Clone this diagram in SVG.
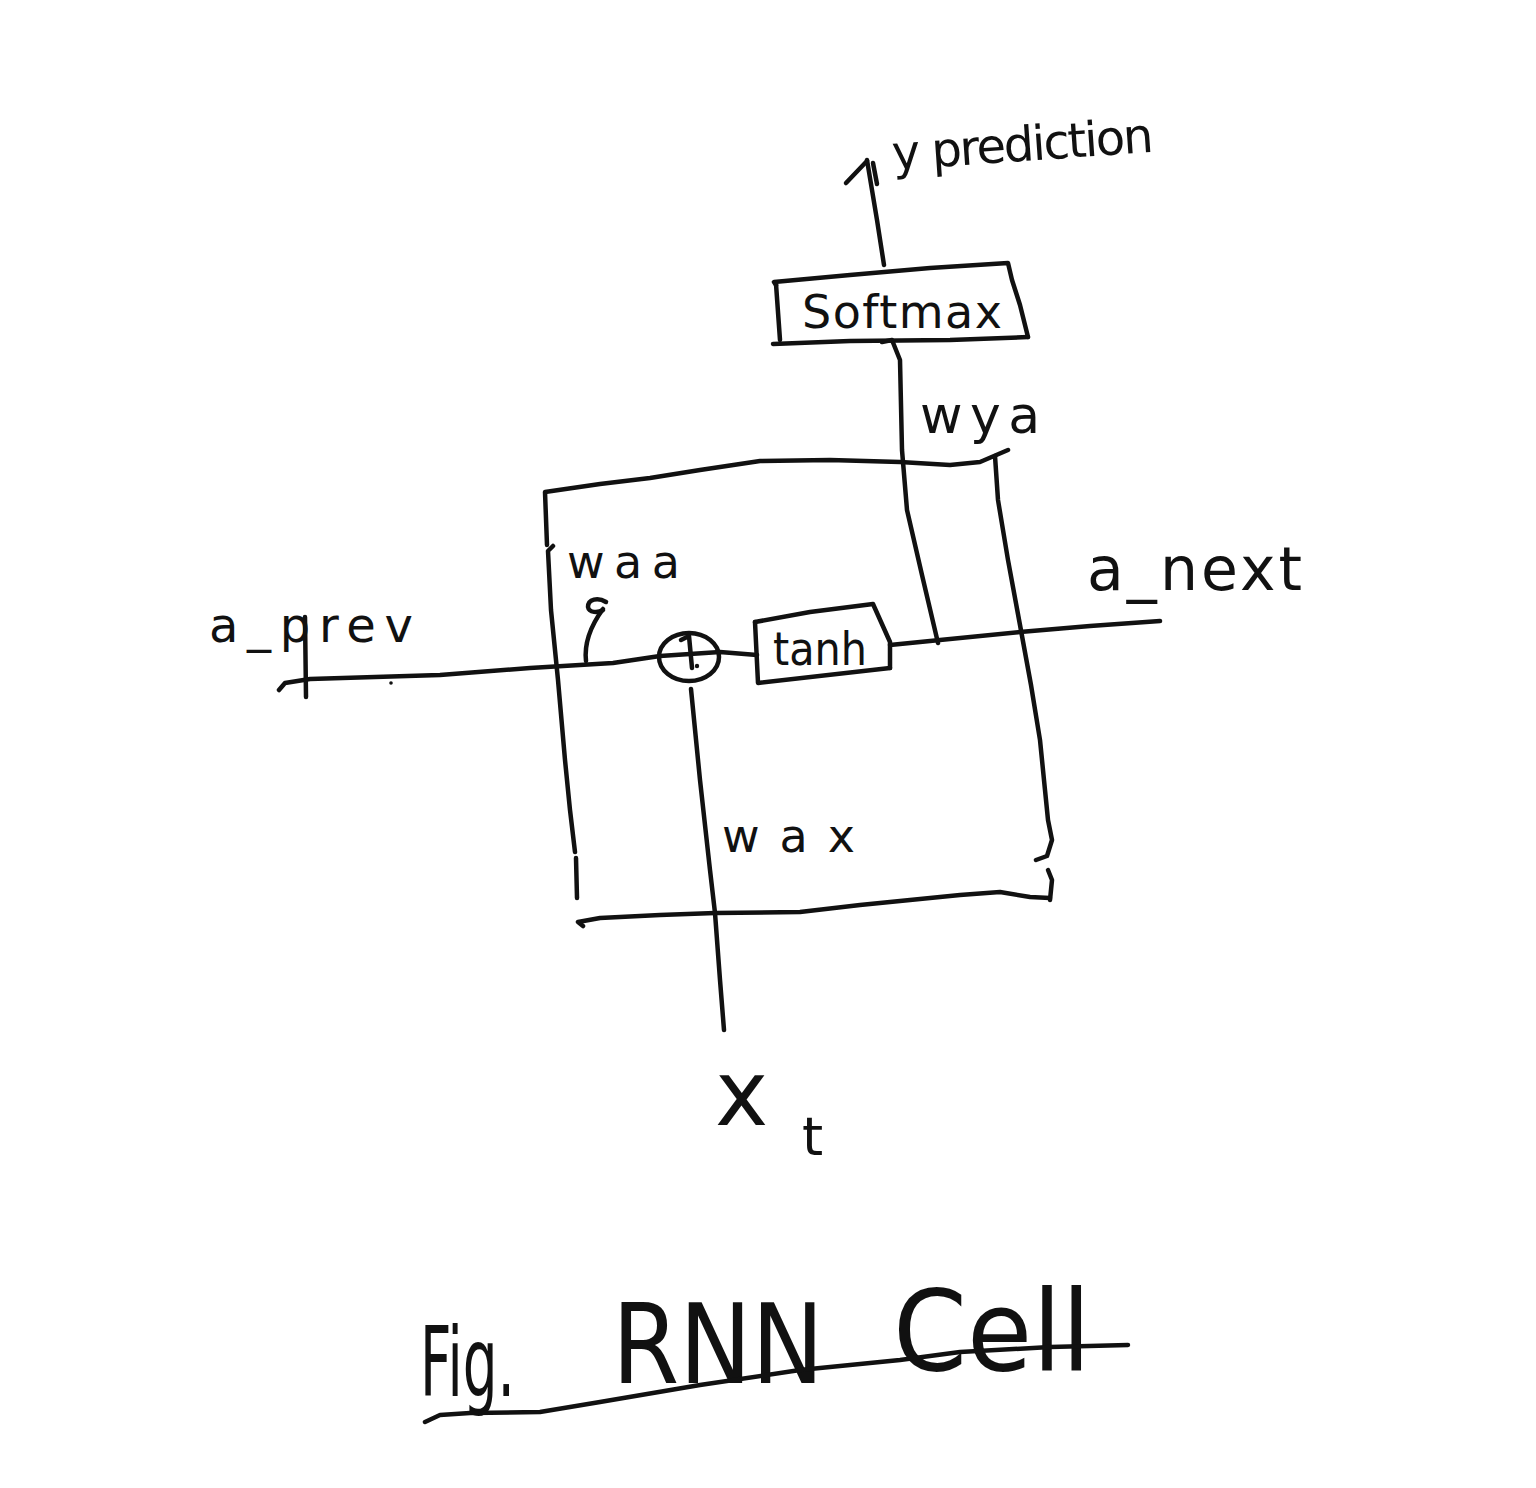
<svg xmlns="http://www.w3.org/2000/svg" width="1536" height="1488" viewBox="0 0 1536 1488">
<style>
.s{fill:none;stroke:#111;stroke-width:4.5;stroke-linecap:round;stroke-linejoin:round}
.t{font-family:"DejaVu Sans","Liberation Sans",sans-serif;fill:#111}
</style>
<rect width="1536" height="1488" fill="#fff"/>
<g id="cell-box">
<path class="s" d="M547,545 L545,492 L600,484 L650,478 L700,470 L760,461 L830,460 L900,462 L950,465 L980,462 L1008,450"/>
<path class="s" d="M553,546 L548,551 L551,610 L558,680 L565,760 L570,810 L575,852"/>
<path class="s" d="M576,858 L577,898"/>
<path class="s" d="M995,456 L998,500 L1008,560 L1020,625 L1031,685 L1040,740 L1045,790 L1048,820 L1052,840 L1047,856 L1036,860"/>
<path class="s" d="M1048,870 L1052,880 L1050,900"/>
<path class="s" d="M583,926 L578,922 L600,918 L660,915 L715,913 L800,912 L860,905 L960,895 L1000,892 L1030,897 L1050,898"/>
</g>
<g id="connectors">
<path class="s" d="M279,690 L285,683 L310,679 L440,675 L530,668 L613,663 L660,656 L720,652 L757,655"/>
<path class="s" d="M305,617 L306,697"/>
<circle cx="391" cy="683" r="1.8" fill="#111"/>
<path class="s" d="M890,645 L940,640 L1020,632 L1090,626 L1160,621"/>
<path class="s" d="M691,689 L700,780 L710,870 L715,913 L720,980 L724,1030"/>
<path class="s" d="M882,342 L892,340 L900,360 L902,450 L907,510 L922,575 L938,643"/>
<path class="s" d="M884,265 L877,220 L867,160"/>
<path class="s" d="M846,183 L867,161"/>
<path class="s" d="M873,163 L877,184"/>
<path class="s" d="M586,661 C584,643 592,624 603,609"/>
<path class="s" d="M606,602 C598,597 588,599 588,607 C589,613 598,613 603,610"/>
</g>
<g id="softmax">
<path class="s" d="M776,285 L774,282 L850,275 L930,268 L1008,263 L1012,280 L1020,305 L1028,337"/>
<path class="s" d="M776,284 L780,340"/>
<path class="s" d="M773,344 L850,341 L950,340 L1028,337"/>
<text class="t" x="802" y="328" font-size="46" textLength="200" lengthAdjust="spacing">Softmax</text>
</g>
<g id="tanh">
<path class="s" d="M755,622 L810,612 L873,604 L890,642 L890,668"/>
<path class="s" d="M755,622 L758,683 L890,668"/>
<text class="t" x="773" y="665" font-size="46" textLength="94" lengthAdjust="spacingAndGlyphs">tanh</text>
</g>
<g id="sum">
<ellipse class="s" cx="689" cy="657" rx="30" ry="24"/>
<path class="s" d="M681,640 L689,636 L692,668"/>
<circle cx="697" cy="666" r="2.2" fill="#111"/>
</g>
<g id="labels">
<text class="t" x="893" y="170" font-size="48" textLength="262" lengthAdjust="spacing" transform="rotate(-4 893 170)">y prediction</text>
<text class="t" x="920" y="433" font-size="52" textLength="120" lengthAdjust="spacing">wya</text>
<text class="t" x="567" y="578" font-size="46" textLength="113" lengthAdjust="spacing">waa</text>
<text class="t" x="722" y="852" font-size="46" textLength="133" lengthAdjust="spacing">wax</text>
<text class="t" x="1087" y="590" font-size="60" textLength="215" lengthAdjust="spacing">a_next</text>
<text class="t" x="209" y="642" font-size="48" textLength="204" lengthAdjust="spacing">a_prev</text>
<text class="t" x="715" y="1125" font-size="90">x</text>
<text class="t" x="802" y="1155" font-size="54">t</text>
</g>
<g id="caption">
<text class="t" x="420" y="1396" font-size="96" textLength="95" lengthAdjust="spacingAndGlyphs">Fig.</text>
<text class="t" x="612" y="1383" font-size="110" textLength="212" lengthAdjust="spacingAndGlyphs">RNN</text>
<text class="t" x="893" y="1370" font-size="112" textLength="198" lengthAdjust="spacingAndGlyphs">Cell</text>
<path class="s" d="M425,1422 L440,1415 L470,1413 L540,1412 L600,1402 L700,1385 L800,1370 L900,1360 L960,1352 L1050,1347 L1128,1345"/>
</g>
</svg>
